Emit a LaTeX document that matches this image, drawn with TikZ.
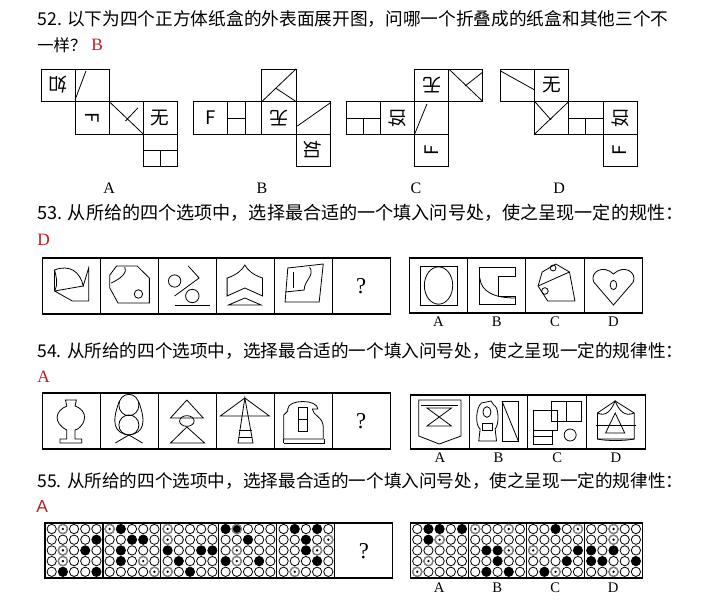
\documentclass[tikz,border=0pt]{standalone}
\usepackage{fontspec}
\usepackage{graphicx}
\setmainfont{Liberation Serif}
\newfontfamily\cjk{Noto Sans CJK SC}
\newfontfamily\sansf{Liberation Sans}
\definecolor{ansred}{RGB}{190,30,30}
\newcommand\lineT[4]{\node[anchor=west,inner sep=0] (#1) at (37,#2) {\resizebox{#3\dimexpr0.75pt\relax}{!}{\cjk #4}};}
\newcommand\ch[4]{\node[rotate=#4,inner sep=0,font=\cjk\fontsize{14}{14}\selectfont] at (#1,#2) {#3};}
\newcommand\cgrid[4]{%
 \draw[thick] (#1,#2) rectangle ++(42.5,55);
 \foreach \i in {0,...,4}{\foreach \j in {0,...,4}{\draw (#1+4.9+\i*8.2,#2+6+\j*10.7) ellipse (2.55pt and 3.5pt);}}
 \foreach \i/\j in {#3}{\fill (#1+4.9+\i*8.2,#2+6+\j*10.7) ellipse (2.55pt and 3.5pt);}
 \foreach \i/\j in {#4}{\draw[gray,line width=1pt] (#1+4.9+\i*8.2,#2+6+\j*10.7) ellipse (2.55pt and 3.5pt);\fill (#1+4.9+\i*8.2,#2+6+\j*10.7) ellipse (0.7pt and 1pt);}}
\begin{document}
\begin{tikzpicture}[x=0.75pt,y=-0.75pt,line width=0.6pt,
 lab/.style={font=\fontsize{10}{10}\selectfont,inner sep=0}]
\useasboundingbox (0,0) rectangle (705,614);
\fill[white] (0,0) rectangle (705,614);
% --- texts (real px)
\lineT{t52}{19}{631}{52. 以下为四个正方体纸盒的外表面展开图，问哪一个折叠成的纸盒和其他三个不}
\node[anchor=west,inner sep=0] (t52b) at (37,45) {\resizebox{49\dimexpr0.75pt\relax}{!}{\cjk 一样？}};
\node[anchor=west,inner sep=0,text=ansred,font=\fontsize{13}{13}\selectfont] (a52) at (91,45) {B};
\lineT{t53}{213}{646}{53. 从所给的四个选项中，选择最合适的一个填入问号处，使之呈现一定的规性：}
\node[anchor=west,inner sep=0,text=ansred,font=\fontsize{13}{13}\selectfont] (a53) at (37,240) {D};
\lineT{t54}{351}{646}{54. 从所给的四个选项中，选择最合适的一个填入问号处，使之呈现一定的规律性：}
\node[anchor=west,inner sep=0,text=ansred,font=\fontsize{13}{13}\selectfont] (a54) at (37,377) {A};
\lineT{t55}{481}{646}{55. 从所给的四个选项中，选择最合适的一个填入问号处，使之呈现一定的规律性：}
\node[anchor=west,inner sep=0,text=ansred,font=\sansf\fontsize{13}{13}\selectfont] (a55) at (36,507) {A};
\begin{scope}[xscale=1.364]
% --- Q52 nets
\def\R#1#2#3{\draw (#1+#2*25,69+#3*32.5) rectangle ++(25,32.5);}
\foreach \c/\r in {0/0,1/0,1/1,2/1,3/1,3/2}{\R{30}{\c}{\r}}
\ch{42.5}{85}{如}{180}\draw (55,100)--(63,71);
\ch{67.5}{118}{F}{-90}\draw (80,101.5)--(105,134) (101,108)--(92,121);
\ch{117.5}{118}{无}{0}\draw (105,150)--(130,150) (117.5,150)--(117.5,166.5);
\foreach \c/\r in {2/0,0/1,1/1,2/1,3/1,3/2}{\R{142}{\c}{\r}}
\draw (217,69)--(192,101.5) (202,88)--(217,101.5);
\ch{154.5}{118}{F}{0}\draw (180,101.5)--(180,134) (167,118)--(180,118);
\ch{204.5}{118}{无}{180}\draw (218,126)--(242,103);
\ch{229.5}{150}{如}{-90}
\foreach \c/\r in {2/0,3/0,0/1,1/1,2/1,2/2}{\R{254}{\c}{\r}}
\ch{316.5}{85}{无}{180}\draw (329,69)--(354,101.5) (354,72)--(341,86);
\draw (254,118)--(279,118) (266.5,118)--(266.5,134);
\ch{291.5}{118}{如}{90}\draw (304,134)--(313,104);
\ch{316.5}{150}{F}{90}
\foreach \c/\r in {0/0,1/0,1/1,2/1,3/1,3/2}{\R{367}{\c}{\r}}
\draw (367,71)--(392,90);
\ch{404.5}{85}{无}{0}\draw (392,101.5)--(404,120) (417,101.5)--(392,134);
\draw (417,118)--(442,118) (429.5,118)--(429.5,134);
\ch{454.5}{118}{如}{90}\ch{454.5}{150}{F}{90}
\foreach \l/\x in {A/80,B/192,C/305,D/410}{\node[lab,font=\fontsize{12}{12}\selectfont] at (\x,188) {\l};}
% --- Q53
\begin{scope}[line width=0.9pt]
\foreach \k in {0,...,5}{\draw (31+\k*42.5,258) rectangle ++(42.5,56);}
\foreach \k in {0,...,3}{\draw (300+\k*42.75,258) rectangle ++(42.75,55);}
\end{scope}
\begin{scope}[shift={(31,258)}]
\draw (9,12) .. controls (20,6) and (28,14) .. (30,28) -- (34,10) -- (34,43) -- (22,43) -- (9,33) -- cycle (9,33)--(30,28);
\draw (9,33) .. controls (12,25) and (10,18) .. (9,12);
\end{scope}
\begin{scope}[shift={(73.5,258)}]
\draw (7,17)--(12,8)--(27,8)--(36,20)--(36,45)--(13,45)--(7,30)--cycle;
\draw (8,25) .. controls (16,20) and (20,14) .. (18,9);\draw (28,36) ellipse (2.3pt and 3.2pt);
\end{scope}
\begin{scope}[shift={(116,258)}]
\draw (12,23) ellipse (3.4pt and 4.6pt) (25,38) ellipse (3.7pt and 5pt);\draw (22,8)--(30,20)--(12,38);\draw (12,47)--(38,47);
\end{scope}
\begin{scope}[shift={(158.5,258)}]
\draw (8,20) .. controls (15,17) and (19,12) .. (21,7) .. controls (23,12) and (27,17) .. (34,20) -- (34,38) -- (21,30) -- (8,38) -- cycle;
\draw (9,47)--(21,40)--(33,47)--cycle;
\end{scope}
\begin{scope}[shift={(201,258)}]
\draw (10,10)--(36,6)--(33,44)--(8,44)--cycle;\draw (8,34)--(22,32) .. controls (22,22) and (30,18) .. (26,9);\draw (14,14)--(14,30);
\end{scope}
\node[font=\fontsize{17}{17}\selectfont] at (264.75,286) {?};
\begin{scope}[shift={(300,258)}]
\draw (8,8) rectangle (35,47);\draw (21.5,27.5) ellipse (7.8pt and 14pt);
\end{scope}
\begin{scope}[shift={(342.75,258)}]
\draw (9,9)--(35,9)--(35,18)--(23,18)--(23,38)--(35,38)--(35,46)--(9,46)--cycle;\draw (9,20) .. controls (10,34) and (20,40) .. (35,40);
\end{scope}
\begin{scope}[shift={(385.5,258)}]
\draw (12,14)--(22,6)--(32,14)--(36,43)--(16,43)--(9,28)--cycle;\draw (9,28)--(32,14);\draw (20,10) ellipse (1.6pt and 2.2pt) (14,33) ellipse (1.8pt and 2.5pt);
\end{scope}
\begin{scope}[shift={(428.25,258)}]
\draw (21.5,47) -- (7,24) .. controls (4,14) and (14,6) .. (21.5,16) .. controls (29,6) and (39,14) .. (36,24) -- cycle;\draw (21.5,27) ellipse (1.8pt and 3.5pt);
\end{scope}
\foreach \l/\k in {A/0,B/1,C/2,D/3}{\node[lab,font=\fontsize{11}{11}\selectfont] at (321.4+\k*42.75,322) {\l};}
% --- Q54
\begin{scope}[line width=0.9pt]
\foreach \k in {0,...,5}{\draw (31+\k*42.5,393) rectangle ++(42.5,56);}
\foreach \k in {0,...,3}{\draw (301+\k*43,395) rectangle ++(43,54);}
\end{scope}
\begin{scope}[shift={(31,393)}]
\draw (17,7)--(25,7)--(24,13) .. controls (34,18) and (32,30) .. (26,36) -- (24,37) -- (24,46) -- (29,46)--(29,50)--(13,50)--(13,46)--(18,46)--(18,37) .. controls (8,30) and (9,18) .. (18,13) -- cycle;
\end{scope}
\begin{scope}[shift={(73.5,393)}]
\draw (21,12) ellipse (5.5pt and 8pt);\draw (21,32) ellipse (5.5pt and 7.5pt);\draw (14,8) .. controls (8,30) and (10,40) .. (21,42) .. controls (32,40) and (34,30) .. (28,8);\draw (11,50)--(21,42)--(31,50);
\end{scope}
\begin{scope}[shift={(116,393)}]
\draw (21,7)--(33,25)--(9,25)--cycle;\draw (21,28) ellipse (4pt and 4pt);\draw (9,50)--(21,34)--(34,50)--cycle;
\end{scope}
\begin{scope}[shift={(158.5,393)}]
\draw (21,5)--(39,23)--(3,23)--cycle;\draw (21,5)--(16,50)--(27,50)--cycle;\draw (17,37)--(26,37) (16.5,44)--(26.5,44);
\end{scope}
\begin{scope}[shift={(201,393)}]
\draw (10,16) .. controls (10,6) and (32,6) .. (32,16) -- (28,16) .. controls (28,22) and (36,24) .. (36,34) -- (36,46) -- (7,46) -- (7,22) -- (10,18) -- cycle;\draw (18,14) rectangle (24,38);\draw (18,26)--(24,26);\draw (7,50)--(37,50) (7,46)--(7,50) (37,46)--(37,50);
\end{scope}
\node[font=\fontsize{17}{17}\selectfont] at (264.75,421) {?};
\begin{scope}[shift={(301,395)}]
\draw (6,5)--(37,5)--(37,41)--(21,49)--(6,41)--cycle;\draw (8,10)--(35,10);\draw (12,13)--(30,13)--(21,22)--(30,31)--(12,31)--(21,22)--cycle;
\end{scope}
\begin{scope}[shift={(344,395)}]
\draw (9,8)--(16,6)--(18,10) .. controls (22,12) and (22,30) .. (19,34) -- (20,46)--(7,46)--(8,34) .. controls (4,30) and (5,12) .. (9,8);\draw (13,17) ellipse (2.2pt and 4pt);\draw (10,28) rectangle (17,35);\draw (24,6) rectangle (36,46);\draw (24,6)--(36,46);
\end{scope}
\begin{scope}[shift={(387,395)}]
\draw (17,6) rectangle (39,26) (28,6)--(28,26);\draw (4,15) rectangle (22,35);\draw (4,35) rectangle (18,49) (4,41)--(18,41);\draw (31,40) ellipse (3.3pt and 4.5pt);
\end{scope}
\begin{scope}[shift={(430,395)}]
\draw (8,18)--(21,6)--(35,18)--(35,44)--(8,44)--cycle;\draw (8,18) .. controls (14,22) and (18,16) .. (21,6) .. controls (24,16) and (28,22) .. (35,18);\draw (7,30)--(36,30);\draw (21,18)--(28,38)--(14,38)--cycle;\draw (8,44) .. controls (14,46) and (28,46) .. (35,44);
\end{scope}
\foreach \l/\k in {A/0,B/1,C/2,D/3}{\node[lab,font=\fontsize{11}{11}\selectfont] at (322.5+\k*43,458) {\l};}
% --- Q55
\cgrid{33}{523}{4/1,3/2,1/4,4/4}{1/0,1/2,1/3}
\cgrid{75.5}{523}{1/0,2/1,1/2,1/3,3/1}{0/0,3/3,4/4}
\cgrid{118}{523}{0/2,3/2,1/3,2/4,4/2}{0/0,0/1,0/4}
\cgrid{160.5}{523}{0/0,1/0,2/1,0/3,3/3}{1/0,1/2,1/3}
\cgrid{203}{523}{1/0,2/1,2/2,3/3,3/0}{4/1,3/2,1/4}
\draw[thick] (245.5,523) rectangle ++(42.5,55);
\node[font=\fontsize{17}{17}\selectfont] at (266.75,551) {?};
\cgrid{301}{523}{1/0,2/0,4/0,1/1}{2/1,1/3,0/4}
\cgrid{343.5}{523}{1/2,2/2,1/4,3/4,2/3}{0/0,3/0,3/2}
\cgrid{386}{523}{2/0,4/2,1/4,3/3}{0/2,4/0,2/4}
\cgrid{428.5}{523}{0/2,0/3,1/3,4/3,2/2}{2/0,2/1,2/4}
\foreach \l/\k in {A/0,B/1,C/2,D/3}{\node[lab,font=\fontsize{11}{11}\selectfont] at (322+\k*42.5,588) {\l};}
\end{scope}
\end{tikzpicture}
\end{document}
